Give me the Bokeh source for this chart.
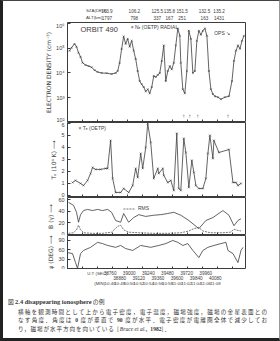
from bokeh.plotting import figure
from bokeh.models import Range1d, LinearAxis, FixedTicker, Label, Div, Legend, LegendItem
from bokeh.layouts import column
from bokeh.embed import file_html
from bokeh.resources import INLINE
from bokeh.core.properties import value

# ---------------- data ----------------
ne_t = [38776, 38792, 38816, 38832, 38848, 38864, 38880, 38904, 38928, 38952, 38976, 39000,
        39032, 39072, 39112, 39144, 39160, 39176, 39192, 39208, 39224, 39240, 39256, 39272,
        39288, 39304, 39320, 39336, 39352, 39368, 39384, 39400, 39416, 39432, 39448, 39464,
        39480, 39496, 39512, 39528, 39544, 39560, 39576, 39592, 39608, 39624, 39640, 39656,
        39664, 39680, 39696, 39712, 39728, 39744, 39760, 39776, 39792, 39808, 39824, 39840,
        39856, 39872, 39888, 39904, 39920, 39936, 39960, 39984, 40016, 40048, 40072, 40088,
        40104, 40120, 40136, 40152, 40168]
ne_v = [7.9e4, 1.05e5, 1.5e5, 1.15e5, 6.6e4, 4.5e4, 2.6e4, 2.1e4, 1.9e4, 1.7e4, 1.3e4, 1.1e4,
        1.0e4, 9.8e3, 9.1e3, 1.0e4, 1.2e4, 2.6e4, 9.5e4, 3.0e5, 1.5e5, 2.4e5, 1.15e5, 2.0e5,
        8.0e4, 3.7e4, 1.2e4, 4.7e3, 3.5e3, 2.7e3, 1.8e3, 2.2e3, 1.5e3, 2.7e3, 7.6e3, 6.9e3,
        8.3e3, 1.0e4, 3.1e4, 1.3e5, 4.7e3, 1.2e4, 1.9e4, 1.4e4, 2.6e4, 1.3e5, 6.3e5, 3.2e5,
        2.6e4, 2.2e3, 1.5e3, 1.2e4, 5.1e5, 2.4e5, 1.0e4, 1.2e4, 2.0e5, 5.1e5, 3.5e5, 5.1e5,
        6.3e5, 3.2e5, 1.2e4, 2.2e3, 1.4e3, 1.15e3, 1.05e3, 8.7e2, 1.05e3, 1.15e3, 4.7e3, 3.1e4,
        8.0e4, 1.3e5, 9.5e4, 2.0e5, 3.2e5]

te_t = [38800, 38824, 38864, 38888, 38920, 38944, 38960, 38984, 39024, 39064, 39080, 39104,
        39120, 39144, 39184, 39208, 39248, 39280, 39304, 39320, 39344, 39360, 39384, 39400,
        39424, 39448, 39480, 39488, 39520, 39528, 39560, 39584, 39608, 39632, 39648, 39664,
        39688, 39704, 39728, 39752, 39768, 39784, 39808, 39840, 39864, 39880, 39896, 39920,
        39928, 39968, 40048, 40080, 40104, 40120, 40144]
te_v = [1.08, 1.25, 1.0, 0.83, 1.25, 1.83, 2.33, 2.17, 2.17, 2.25, 2.25, 4.58,
        1.42, 0.25, 0.25, 0.58, 0.25, 0.83, 2.25, 1.5, 3.5, 2.25, 4.0, 6.0,
        4.42, 1.42, 2.25, 1.83, 2.25, 1.67, 1.08, 1.25, 0.42, 5.17, 0.58, 0.42,
        4.75, 3.58, 0.67, 2.92, 1.92, 0.83, 0.58, 0.58, 1.42, 3.5, 5.0, 3.08,
        4.58, 3.58, 3.83, 1.08, 1.08, 0.83, 1.0]

b_t = [38768, 38808, 38832, 38848, 38864, 38888, 38920, 38960, 39000, 39040, 39080, 39112,
       39144, 39184, 39208, 39248, 39288, 39328, 39384, 39448, 39504, 39560, 39608, 39664,
       39728, 39768, 39808, 39864, 39920, 40000, 40048, 40088, 40120, 40144]
b_v = [55, 50, 38, 21, 34, 41, 43, 41, 43, 41, 43, 38,
       24, 21, 36, 21, 29, 34, 31, 33, 34, 36, 38, 33,
       24, 17, 10, 24, 29, 41, 33, 15, 24, 27]

rms_t = [38768, 38808, 38832, 38848, 38864, 38888, 38960, 39040, 39112, 39160, 39184, 39208,
         39248, 39328, 39448, 39560, 39664, 39728, 39768, 39808, 39840, 39900, 40000, 40060,
         40088, 40120, 40144]
rms_v = [2, 3, 8, 16, 8, 3, 2, 2, 4, 14, 16, 8,
         4, 3, 2, 2, 3, 6, 10, 12, 6, 3, 3, 4,
         9, 7, 6]

psi_t = [38760, 38800, 38824, 38840, 38864, 38888, 38944, 39000, 39040, 39080, 39144, 39184,
         39224, 39280, 39344, 39424, 39488, 39544, 39600, 39640, 39680, 39720, 39760, 39808,
         39840, 39880, 39928, 39984, 40024, 40040, 40080, 40120, 40144, 40160]
psi_v = [51, 48, 19, 0, 48, 58, 68, 84, 80, 74, 68, 74,
         64, 58, 74, 68, 74, 80, 90, 84, 74, 80, 58, 35,
         58, 68, 74, 80, 84, 58, 48, 19, 58, 68]

arrow_t = [39688, 39736, 39800, 40040]

sza_t = [38720, 39064, 39352, 39504, 39664, 39944, 40128]
sza_lab = ["163.9", "106.2", "125.5", "135.8", "151.5", "132.5", "135.2"]
alt_lab = ["1797", "798", "337", "167", "251", "163", "1431"]

ut_ticks = [38760, 38880, 39000, 39120, 39240, 39360, 39480, 39600, 39720, 39840, 39960, 40080]
ut_min = ["10:46", "10:48", "10:50", "10:52", "10:54", "10:56", "10:58", "11:00", "11:02",
          "11:04", "11:06", "11:08"]

ne_ticks = [1e2, 1e3, 1e4, 1e5, 1e6]
ne_tick_lab = ["10²", "10³", "10⁴", "10⁵", "10⁶"]
te_ticks = [0, 1, 2, 3, 4, 5, 6]
b_ticks = [0, 20, 40, 60]
psi_ticks = [0, 30, 60, 90]

# ---------------- layout constants ----------------
W = 280
FL, FR = 67, 245
T0, T1 = 38760, 40180
S = (T1 - T0) / (FR - FL)
FULL = (T0 - FL * S, T0 + (W - FL) * S)
INK = "#3c3c3c"
FONT = "Liberation Sans"

xr = Range1d(T0, T1)


def base(h, xrange, yrange, **kw):
    p = figure(width=W, height=h, x_range=xrange, y_range=yrange, output_backend="svg",
               toolbar_location=None, x_axis_location=None, min_border_top=0,
               min_border_bottom=0, background_fill_color="white", border_fill_color="white", **kw)
    p.grid.visible = False
    return p


def panel(h, yrange, ticks, label, overrides=None, log=False):
    p = base(h, xr, yrange, y_axis_type="log" if log else "linear",
             min_border_left=FL, min_border_right=W - FR,
             outline_line_color=INK, outline_line_width=1)
    ax = p.yaxis[0]
    ax.ticker = FixedTicker(ticks=ticks)
    if overrides:
        ax.major_label_overrides = overrides
    ax.major_tick_in = 3
    ax.major_tick_out = 0
    ax.minor_tick_line_color = None
    ax.axis_line_color = None
    ax.major_tick_line_color = INK
    ax.major_label_text_font_size = "5.5px"
    ax.major_label_text_font = FONT
    ax.major_label_text_color = INK
    ax.major_label_standoff = 3
    ax.axis_label = label
    ax.axis_label_text_font_size = "6px"
    ax.axis_label_text_font_style = "normal"
    ax.axis_label_text_font = "DejaVu Sans"
    ax.axis_label_text_color = INK
    ax.axis_label_standoff = 1
    bx = LinearAxis(ticker=FixedTicker(ticks=ut_ticks), major_tick_in=3, major_tick_out=0,
                    major_label_text_font_size="1px", major_label_text_color=None,
                    major_label_standoff=0, axis_line_color=None, minor_tick_line_color=None,
                    major_tick_line_color=INK)
    p.add_layout(bx, "below")
    return p


def txt(p, x, y, text, size="5px", align="left", font=FONT, style="normal"):
    p.add_layout(Label(x=x, y=y, text=text, text_font_size=size, text_align=align,
                       text_baseline="middle", text_font=font, text_color=INK,
                       text_font_style=style))


# header with SZA / ALT
hdr = base(22, Range1d(*FULL), Range1d(22, 0), min_border_left=0, min_border_right=0,
           y_axis_location=None, outline_line_color=None)
hdr.text(x=sza_t, y=[10] * len(sza_t), text=sza_lab, text_align="center", text_baseline="middle",
         text_font_size="4.6px", text_font=value(FONT), text_color=INK)
hdr.text(x=sza_t, y=[17] * len(sza_t), text=alt_lab, text_align="center", text_baseline="middle",
         text_font_size="4.6px", text_font=value(FONT), text_color=INK)
txt(hdr, FULL[0] + 29 * S, 10, "SZA(DEG)", size="4.4px")
txt(hdr, FULL[0] + 29 * S, 17, "ALT(km)", size="4.4px")

# electron density
ne = panel(100, Range1d(1e2, 10 ** 6.04), ne_ticks, "ELECTRON DENSITY (cm⁻³)",
           dict(zip(ne_ticks, ne_tick_lab)), log=True)
ne.line(ne_t, ne_v, line_color=INK, line_width=0.8)
ne.scatter(ne_t, ne_v, marker="x", size=2.5, line_color=INK, line_width=0.6)
ne.text(x=arrow_t, y=[10 ** 2.25] * len(arrow_t), text=["↑"] * len(arrow_t), text_align="center",
        text_baseline="middle", text_font_size="6px", text_color=INK)
txt(ne, 38864, 10 ** 5.76, "ORBIT  490", size="7.5px")
txt(ne, 39264, 10 ** 5.86, "× Nₑ (OETP) RADIAL", size="5px")
txt(ne, 39930, 10 ** 5.6, "OPS ↘", size="5px")

# electron temperature
te = panel(75, Range1d(-0.17, 6.08), te_ticks, "Tₑ (10⁴ K) ⟶")
te.line(te_t, te_v, line_color=INK, line_width=0.8)
te.scatter(te_t, te_v, marker="x", size=2.5, line_color=INK, line_width=0.6)
txt(te, 38848, 5.6, "× Tₑ (OETP)", size="5px")

# magnetic field
bp = panel(38, Range1d(-1.7, 63.4), b_ticks, "B (γ) ⟶")
bp.line(b_t, b_v, line_color=INK, line_width=0.8)
r_rms = bp.line(rms_t, rms_v, line_color=INK, line_width=0.7, line_dash="2 1")
leg = Legend(items=[LegendItem(label="RMS", renderers=[r_rms])], location=(56, 24),
             label_text_font_size="5px", label_text_font=FONT, label_text_color=INK,
             glyph_width=12, glyph_height=5, label_height=5, padding=0, margin=0, spacing=0,
             border_line_color=None, background_fill_alpha=0, label_standoff=3)
bp.add_layout(leg)

# field angle
pp = panel(34, Range1d(-3.2, 106), psi_ticks, "ψ (DEG) ⟶")
pp.line(psi_t, psi_v, line_color=INK, line_width=0.8)

# footer: UT tick labels
ft = base(22, Range1d(*FULL), Range1d(22, 0), min_border_left=0, min_border_right=0,
          y_axis_location=None, outline_line_color=None)
ft.text(x=ut_ticks[0::2], y=[3.5] * 6, text=[str(t) for t in ut_ticks[0::2]], text_align="center",
        text_baseline="middle", text_font_size="4.6px", text_font=value(FONT), text_color=INK)
ft.text(x=ut_ticks[1::2], y=[8] * 6, text=[str(t) for t in ut_ticks[1::2]], text_align="center",
        text_baseline="middle", text_font_size="4.6px", text_font=value(FONT), text_color=INK)
ft.text(x=ut_ticks, y=[14] * len(ut_ticks), text=ut_min, text_align="center",
        text_baseline="middle", text_font_size="4.4px", text_font=value(FONT), text_color=INK)
txt(ft, FULL[0] + 31 * S, 3.5, "U.T (SEC)", size="4.4px")
txt(ft, FULL[0] + 42 * S, 14, "(MIN)", size="4.4px")

LINE = "padding-left:10px;height:8.3px;"
cap_html = (
    "<div style=\"font-family:'Noto Sans CJK JP';font-size:5.6px;line-height:8.3px;color:#333;"
    "padding:7px 13px 0 8px;width:280px;box-sizing:border-box;\">"
    "<div style='height:10px;font-size:5.8px'>図 <b style=\"font-family:'Liberation Serif';font-size:6.4px\">2.4 "
    "disappearing ionosphere</b> の例</div>"
    "<div style='" + LINE + "text-align:justify;text-align-last:justify'>"
    "横軸を観測時間として上から電子密度，電子温度，磁場強度，磁場の金星表面との</div>"
    "<div style='" + LINE + "text-align:justify;text-align-last:justify'>"
    "なす角度．角度は <b style=\"font-family:'Liberation Serif'\">0</b> 度が垂直で "
    "<b style=\"font-family:'Liberation Serif'\">90</b> 度が水平．電子密度が電離圏全体で減少してお</div>"
    "<div style='" + LINE + "letter-spacing:0.9px'>り，磁場が水平方向を向いている "
    "[<i style=\"font-family:'Liberation Serif';letter-spacing:0\">Brace et al.</i>, "
    "<b style=\"font-family:'Liberation Serif';letter-spacing:0\">1982</b>]．</div>"
    "</div>"
)
cap = Div(text=cap_html, width=W, height=50, margin=0)

page = column(hdr, ne, te, bp, pp, ft, cap, width=W, spacing=0,
              stylesheets=[":host{position:relative;} :host::after{content:'';position:absolute;"
                           "left:0;top:0;right:0;bottom:0;border-left:3px solid #222;"
                           "border-top:1px solid #444;border-right:1px solid #999;"
                           "border-bottom:3px solid #222;pointer-events:none;z-index:10;}"])

open("out.html", "w").write(file_html(page, INLINE))
